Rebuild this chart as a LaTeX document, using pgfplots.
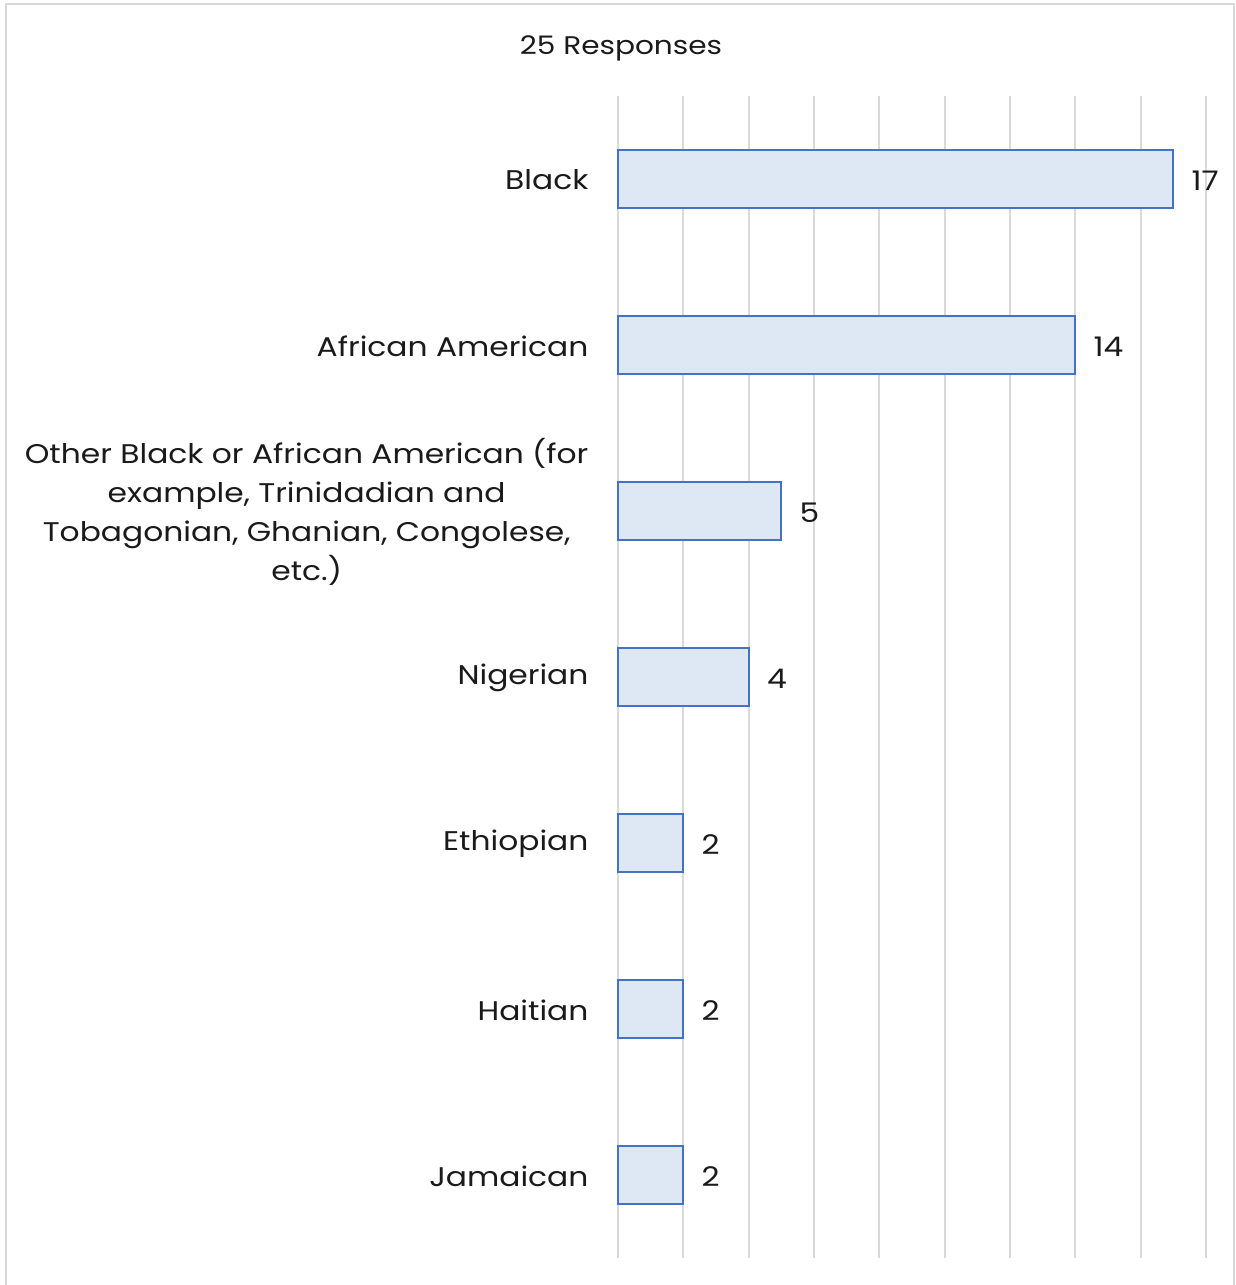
\documentclass[border=0pt]{standalone}
\usepackage{pgfplots}
\pgfplotsset{compat=1.18}
\usepackage{fontspec}
\setmainfont{Poppins}[FakeStretch=1.16]
\definecolor{gridgray}{HTML}{D9D9D9}
\definecolor{barfill}{HTML}{DEE8F5}
\definecolor{baredge}{HTML}{4472C4}
\definecolor{txt}{HTML}{1A1A1A}
\newcommand{\lbl}{\fontsize{27}{39}\selectfont}
\begin{document}
\begin{tikzpicture}
\useasboundingbox (0pt,0pt) rectangle (1236pt,1285pt);
\draw[gridgray, line width=2pt] (6pt,-10pt) rectangle (1234pt,1281pt);
\node[txt, font=\fontsize{25.5}{30}\selectfont] at (621pt,1237pt) {25 Responses};
\begin{axis}[
  at={(618pt,27pt)}, anchor=south west,
  scale only axis, width=588pt, height=1162pt,
  xbar, bar width=58pt,
  xmin=0, xmax=18, ymin=-0.5, ymax=6.5,
  y dir=reverse,
  xtick={0,2,...,18}, xticklabels={},
  xmajorgrids, grid style={gridgray, line width=2pt},
  ytick={0,...,6},
  yticklabels={Black, African American,
    {Other Black or African American (for\\example, Trinidadian and\\Tobagonian, Ghanian, Congolese,\\etc.)},
    Nigerian, Ethiopian, Haitian, Jamaican},
  yticklabel style={font=\lbl, text=txt, align=center, xshift=-26pt, yshift=-1pt},
  axis line style={draw=none},
  major tick length=0pt,
  nodes near coords,
  nodes near coords style={font=\lbl, text=txt, anchor=west, xshift=14pt, yshift=-2pt,
    /pgf/number format/assume math mode=true},
  clip=false,
]
\addplot[fill=barfill, draw=baredge, line width=2pt] coordinates {
  (17,0) (14,1) (5,2) (4,3) (2,4) (2,5) (2,6)
};
\end{axis}
\end{tikzpicture}
\end{document}
